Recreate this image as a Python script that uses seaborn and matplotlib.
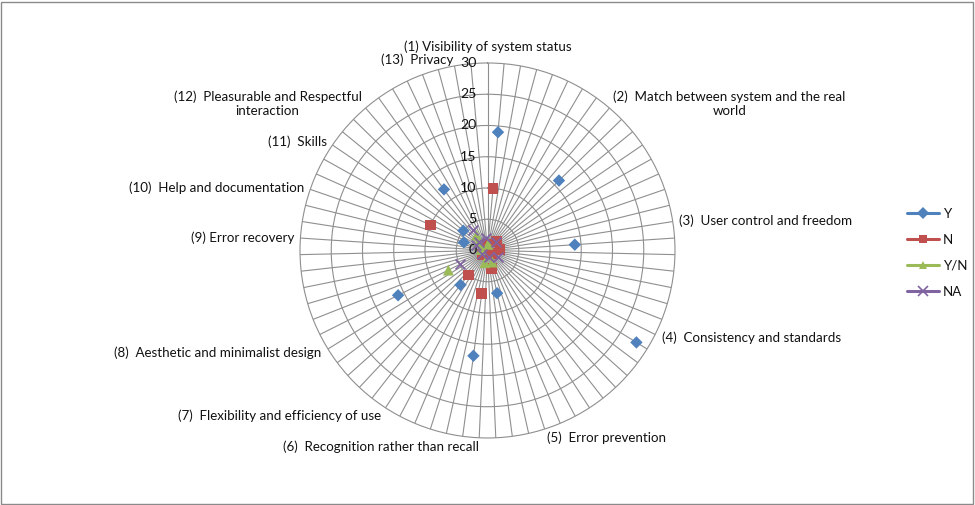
import numpy as np
import pandas as pd
import matplotlib
matplotlib.use("Agg")
import matplotlib.pyplot as plt
import matplotlib.transforms as mtransforms
from matplotlib.lines import Line2D
from matplotlib.patches import Rectangle
import seaborn as sns

# number of spokes of the radar (Excel category rows)
n_spokes = 71

# category labels (spoke index -> text), other spokes have empty labels
label_idx = [0, 8, 16, 23, 32, 36, 42, 47, 54, 57, 60, 63, 69]
label_txt = ["(1) Visibility of system status",
             "(2)  Match between system and the real\nworld",
             "(3)  User control and freedom",
             "(4)  Consistency and standards",
             "(5)  Error prevention",
             "(6)  Recognition rather than recall",
             "(7)  Flexibility and efficiency of use",
             "(8)  Aesthetic and minimalist design",
             "(9) Error recovery",
             "(10)  Help and documentation",
             "(11)  Skills",
             "(12)  Pleasurable and Respectful\ninteraction",
             "(13)  Privacy"]

# series values (spoke index, value)
y_idx = [1, 9, 17, 24, 33, 37, 43, 48, 57, 61, 64]
y_val = [19, 16, 14, 28, 7, 17, 7, 16, 4, 5, 12]
n_idx = [1, 9, 17, 24, 33, 37, 43, 46, 58, 70]
n_val = [10, 2, 2, 1, 3, 7, 5, 1, 10, 1]
yn_idx = [1, 31, 38, 48, 55, 62, 64]
yn_val = [1, 2, 2, 7, 1, 2, 3]
na_idx = [9, 24, 33, 46, 48, 58, 62, 64, 70]
na_val = [2, 2, 1, 1, 5, 2, 2, 4, 2]

r_ticks = [0, 5, 10, 15, 20, 25, 30]

series = [("Y", y_idx, y_val, "#4F81BD", "D", 40),
          ("N", n_idx, n_val, "#C0504D", "s", 60),
          ("Y/N", yn_idx, yn_val, "#9BBB59", "^", 62),
          ("NA", na_idx, na_val, "#8064A2", "x", 50)]

sns.set_style("white")
plt.rcParams['font.family'] = ['Lato', 'DejaVu Sans']
fs = 9.6
grid_col = "#8f8f8f"
txt_col = "#111111"

fig = plt.figure(figsize=(9.75, 5.05), dpi=100)
ax = fig.add_axes([0.3077, 0.1327, 0.3846, 0.7426], projection="polar")
ax.set_theta_zero_location("N")
ax.set_theta_direction(-1)

theta = np.linspace(0, 2 * np.pi, n_spokes, endpoint=False)
ax.set_xticks(theta)
ax.set_xticklabels([])
ax.set_yticks(r_ticks[1:-1])
ax.set_yticklabels([])
ax.set_ylim(0, 30)
ax.grid(True, color=grid_col, lw=0.8)
ax.spines["polar"].set_color(grid_col)
ax.spines["polar"].set_linewidth(0.8)
ax.tick_params(length=0)

# radial value labels left of spoke 0
off = mtransforms.offset_copy(ax.transData, fig=fig, x=-11, y=0, units="dots")
for v in r_ticks:
    ax.text(0, v, str(v), transform=off, ha="right", va="center", fontsize=fs + 0.6, color=txt_col)

# data markers
for name, idx, vals, col, mk, sz in series:
    df = pd.DataFrame({"theta": theta[idx], "value": vals})
    sns.scatterplot(data=df, x="theta", y="value", ax=ax, color=col, marker=mk, s=sz,
                    linewidth=1.3 if mk == "x" else 0, edgecolor=col if mk == "x" else "none",
                    clip_on=False, zorder=3)
ax.set_xlabel("")
ax.set_ylabel("")

# category labels outside ring
for i, t in zip(label_idx, label_txt):
    a = theta[i]
    s, c = np.sin(a), np.cos(a)
    ha = "center" if abs(s) < 0.02 else ("left" if s > 0 else "right")
    va = "center" if abs(s) >= 0.02 else ("bottom" if c > 0 else "top")
    r_lab = 31.0 + 0.5 * max(0.0, -c) + (0.6 if va == "bottom" else 0.0)
    ax.text(a, r_lab, t, ha=ha, va=va, multialignment="center", fontsize=fs, color=txt_col)

# legend
handles = [Line2D([0], [0], color=col, lw=2.2, marker=mk, markersize=6 if mk != "x" else 6.5,
                  markeredgewidth=1.2 if mk == "x" else 0, markerfacecolor=col, markeredgecolor=col)
           for name, idx, vals, col, mk, sz in series]
leg = fig.legend(handles, [s[0] for s in series], loc="center left", bbox_to_anchor=(0.918, 0.5),
                 frameon=False, fontsize=fs, handlelength=2.4, labelspacing=1.05, handletextpad=0.3)
for t in leg.get_texts():
    t.set_color(txt_col)

fig.add_artist(Rectangle((0.001, 0.002), 0.997, 0.995, transform=fig.transFigure,
                         fill=False, edgecolor="#8a8a8a", lw=1))

fig.savefig("out.png", dpi=100)
